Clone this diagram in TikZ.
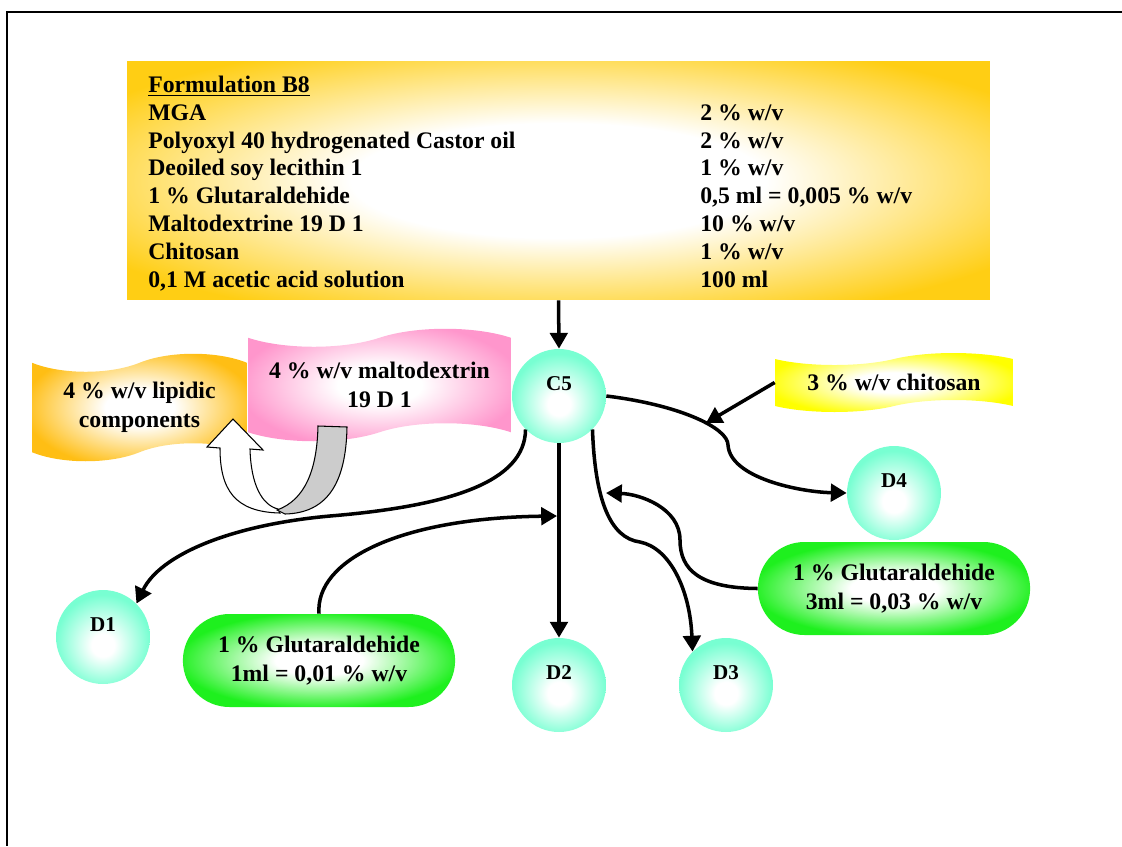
\documentclass[tikz,border=0pt]{standalone}
\usepackage{fontspec}
\setmainfont{Liberation Serif}
\usepackage{tikz}
\usetikzlibrary{positioning,arrows.meta,shapes.misc,shapes.symbols}
\usepackage{xcolor}

\definecolor{gold}{RGB}{255,206,20}
\definecolor{apricot}{RGB}{255,190,20}
\definecolor{rose}{RGB}{255,150,204}
\definecolor{lemon}{RGB}{255,255,0}
\definecolor{aqua}{RGB}{120,255,210}
\definecolor{lime}{RGB}{30,240,30}
\definecolor{ribbon}{RGB}{204,204,204}

% white centre fading out to the fill colour (path edge sits at 25bp)
\pgfdeclareradialshading{goldglow}{\pgfpoint{0bp}{0bp}}{color(0bp)=(white); color(12bp)=(white); color(31bp)=(gold); color(50bp)=(gold)}
\pgfdeclareradialshading{apricotglow}{\pgfpoint{0bp}{0bp}}{color(0bp)=(white); color(8bp)=(white); color(27bp)=(apricot); color(50bp)=(apricot)}
\pgfdeclareradialshading{roseglow}{\pgfpoint{0bp}{0bp}}{color(0bp)=(white); color(8bp)=(white); color(27bp)=(rose); color(50bp)=(rose)}
\pgfdeclareradialshading{lemonglow}{\pgfpoint{0bp}{0bp}}{color(0bp)=(white); color(8bp)=(white); color(27bp)=(lemon); color(50bp)=(lemon)}
\pgfdeclareradialshading{aquaglow}{\pgfpoint{0bp}{-5bp}}{color(0bp)=(white); color(6bp)=(white); color(25bp)=(aqua); color(50bp)=(aqua)}
\pgfdeclareradialshading{limeglow}{\pgfpoint{0bp}{0bp}}{color(0bp)=(white); color(8bp)=(white); color(26bp)=(lime); color(50bp)=(lime)}

\begin{document}
\begin{tikzpicture}[x=0.02cm,y=-0.02cm,
    every node/.style={font=\fontsize{13.5}{16.2}\selectfont\bfseries},
    recipe/.style={rectangle, shading=goldglow, minimum width=17.26cm, minimum height=4.78cm},
    row/.style={anchor=west, inner sep=0pt, text height=10pt, text depth=1pt},
    wave/.style={tape, tape bend height=0.36cm, align=center, inner sep=0pt},
    drop/.style={circle, shading=aquaglow, minimum size=1.88cm, inner sep=0pt,
                 text height=0.28cm, text depth=0.52cm, font=\fontsize{12}{14}\selectfont\bfseries},
    pill/.style={rounded rectangle, shading=limeglow, minimum width=5.68cm,
                 minimum height=1.86cm, align=center},
    link/.style={line width=2pt, -{Triangle[length=9pt,width=10pt]}}]
  \useasboundingbox (0,0) rectangle (1122,846);
  % frame
  \draw[line width=1.6pt] (1122,12) -- (7,12) -- (7,846);

  % formulation box
  \node[recipe] (box) at (558.5,180.5) {};
  \node[row] (title) at (148,85) {\underline{Formulation B8}};
  \node[row] (mga)  at (148,113) {MGA};
  \node[row] (peg)  at (148,141) {Polyoxyl 40 hydrogenated Castor oil};
  \node[row] (lec)  at (148,168) {Deoiled soy lecithin 1};
  \node[row] (glu)  at (148,196) {1 \% Glutaraldehide};
  \node[row] (mal)  at (148,224) {Maltodextrine 19 D 1};
  \node[row] (chi)  at (148,252) {Chitosan};
  \node[row] (acid) at (148,280) {0,1 M acetic acid solution};
  \node[row] (mgav)  at (700,113) {2 \% w/v};
  \node[row] (pegv)  at (700,141) {2 \% w/v};
  \node[row] (lecv)  at (700,168) {1 \% w/v};
  \node[row] (gluv)  at (700,196) {0,5 ml = 0,005 \% w/v};
  \node[row] (malv)  at (700,224) {10 \% w/v};
  \node[row] (chiv)  at (700,252) {1 \% w/v};
  \node[row] (acidv) at (700,280) {100 ml};

  % wavy banners
  \node[wave, shading=apricotglow, minimum width=4.3cm, minimum height=2.15cm] (lipid) at (139.5,407.5) {4 \% w/v lipidic\\components};
  \node[wave, shading=roseglow, minimum width=5.26cm, minimum height=2.25cm] (malto) at (379.5,385) {4 \% w/v maltodextrin\\19 D 1};
  \node[wave, shading=lemonglow, tape bend height=0.24cm, minimum width=4.76cm, minimum height=1.18cm] (chito) at (894,382.5) {3 \% w/v chitosan};

  % turned-over arrow from maltodextrin to lipids
  \filldraw[fill=white, line width=0.6pt] (280,513) .. controls (235,512) and (220,490) .. (220,448)
      -- (207,447) -- (233,419) -- (263,450) -- (250,449) .. controls (251,485) and (262,505) .. (278,509) -- cycle;
  \filldraw[fill=ribbon, line width=0.6pt] (318,426) -- (347,427) .. controls (346,482) and (328,513) .. (285,514)
      -- (277,510) .. controls (305,500) and (317,470) .. (318,426) -- cycle;

  % particles
  \node[drop] (c5) at (559,396) {C5};
  \node[drop] (d1) at (103,637) {D1};
  \node[drop] (d2) at (559,685) {D2};
  \node[drop] (d3) at (726,685) {D3};
  \node[drop] (d4) at (894,493) {D4};

  % glutaraldehyde additions
  \node[pill] (g1) at (319,660.5) {1 \% Glutaraldehide\\1ml = 0,01 \% w/v};
  \node[pill] (g2) at (894,588.5) {1 \% Glutaraldehide\\3ml = 0,03 \% w/v};

  \coordinate (chitohit) at (706,423);
  \coordinate (g1hit) at (557,516);
  \coordinate (g2hit) at (606,493);

  % connections
  \draw[link] (box.south) -- (c5.north);
  \draw[link] (c5.south) -- (d2.north);
  \draw[link] (c5.east) .. controls (680,405) and (728,428) .. (728,445)
      .. controls (730,478) and (800,492) .. (d4.west);
  \draw[link] (chito.west) -- (chitohit);
  \draw[link] (c5.south west) .. controls (525,482) and (450,506) .. (330,516)
      .. controls (230,525) and (160,555) .. (d1.north east);
  \draw[link] (g1.north) .. controls (315,560) and (400,518) .. (g1hit);
  \draw[link] (c5.south east) .. controls (595,500) and (610,538) .. (640,542)
      .. controls (670,548) and (690,590) .. (d3.north west);
  \draw[link] (g2.west) .. controls (700,588) and (680,570) .. (680,540)
      .. controls (680,508) and (640,494) .. (g2hit);
\end{tikzpicture}
\end{document}
